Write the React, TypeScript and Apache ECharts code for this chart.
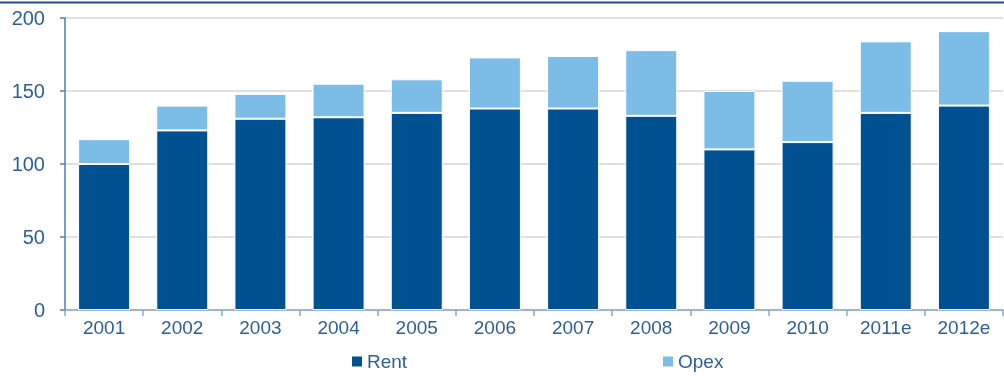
import React, { useEffect, useRef } from "react";
import * as echarts from "echarts";

const categories = ["2001", "2002", "2003", "2004", "2005", "2006", "2007", "2008", "2009", "2010", "2011e", "2012e"];
const rent = [100, 123, 131, 132, 135, 138, 138, 133, 110, 115, 135, 140];
const opex = [17, 17, 17, 23, 23, 35, 36, 45, 40, 42, 49, 51];
const yTicks = [0, 50, 100, 150, 200];

const RENT_COLOR = "#005192";
const OPEX_COLOR = "#7cbde8";
const TEXT_COLOR = "#2d5f9b";
const FONT = "'Liberation Sans', Arial, Helvetica, sans-serif";

export default function App() {
  const ref = useRef<HTMLDivElement>(null);
  useEffect(() => {
    if (!ref.current) return;
    const chart = echarts.init(ref.current, null, { renderer: "svg" });
    chart.setOption({
      animation: false,
      textStyle: { fontFamily: FONT },
      grid: { left: 65, right: 1, top: 18, bottom: 66, containLabel: false },
      graphic: [
        {
          type: "line",
          shape: { x1: 0, y1: 2.5, x2: 1004, y2: 2.5 },
          style: { stroke: "#1f4f86", lineWidth: 2 },
        },
      ],
      legend: [
        {
          data: ["Rent"],
          left: 352,
          top: 352,
          padding: 0,
          icon: "rect",
          itemWidth: 10,
          itemHeight: 10,
          itemStyle: { borderWidth: 0 },
          textStyle: { color: TEXT_COLOR, fontSize: 19, fontFamily: FONT },
        },
        {
          data: ["Opex"],
          left: 663,
          top: 352,
          padding: 0,
          icon: "rect",
          itemWidth: 10,
          itemHeight: 10,
          itemStyle: { borderWidth: 0 },
          textStyle: { color: TEXT_COLOR, fontSize: 19, fontFamily: FONT },
        },
      ],
      xAxis: {
        type: "category",
        data: categories,
        boundaryGap: true,
        axisLine: { lineStyle: { color: "#86a9cd", width: 1.5 } },
        axisTick: { show: true, length: 6, lineStyle: { color: "#86a9cd", width: 1.5 } },
        axisLabel: { color: TEXT_COLOR, fontSize: 19, margin: 8, fontFamily: FONT },
      },
      yAxis: {
        type: "value",
        min: yTicks[0],
        max: yTicks[yTicks.length - 1],
        interval: 50,
        axisLine: { show: true, lineStyle: { color: "#4f7fb3", width: 1.5 } },
        axisTick: { show: true, length: 5, lineStyle: { color: "#4f7fb3", width: 1.5 } },
        axisLabel: { color: TEXT_COLOR, fontSize: 20, margin: 20, fontFamily: FONT },
        splitLine: { show: true, lineStyle: { color: "#d6d6d6", width: 1.5 } },
      },
      series: [
        {
          name: "Rent",
          type: "bar",
          stack: "total",
          data: rent,
          barWidth: 52,
          itemStyle: { color: RENT_COLOR, borderColor: "#ffffff", borderWidth: 1 },
        },
        {
          name: "Opex",
          type: "bar",
          stack: "total",
          data: opex,
          barWidth: 52,
          itemStyle: { color: OPEX_COLOR, borderColor: "#ffffff", borderWidth: 1 },
        },
      ],
    });
    return () => chart.dispose();
  }, []);
  return <div ref={ref} style={{ width: 1004, height: 376, position: "fixed", left: 0, top: 0 }} />;
}
